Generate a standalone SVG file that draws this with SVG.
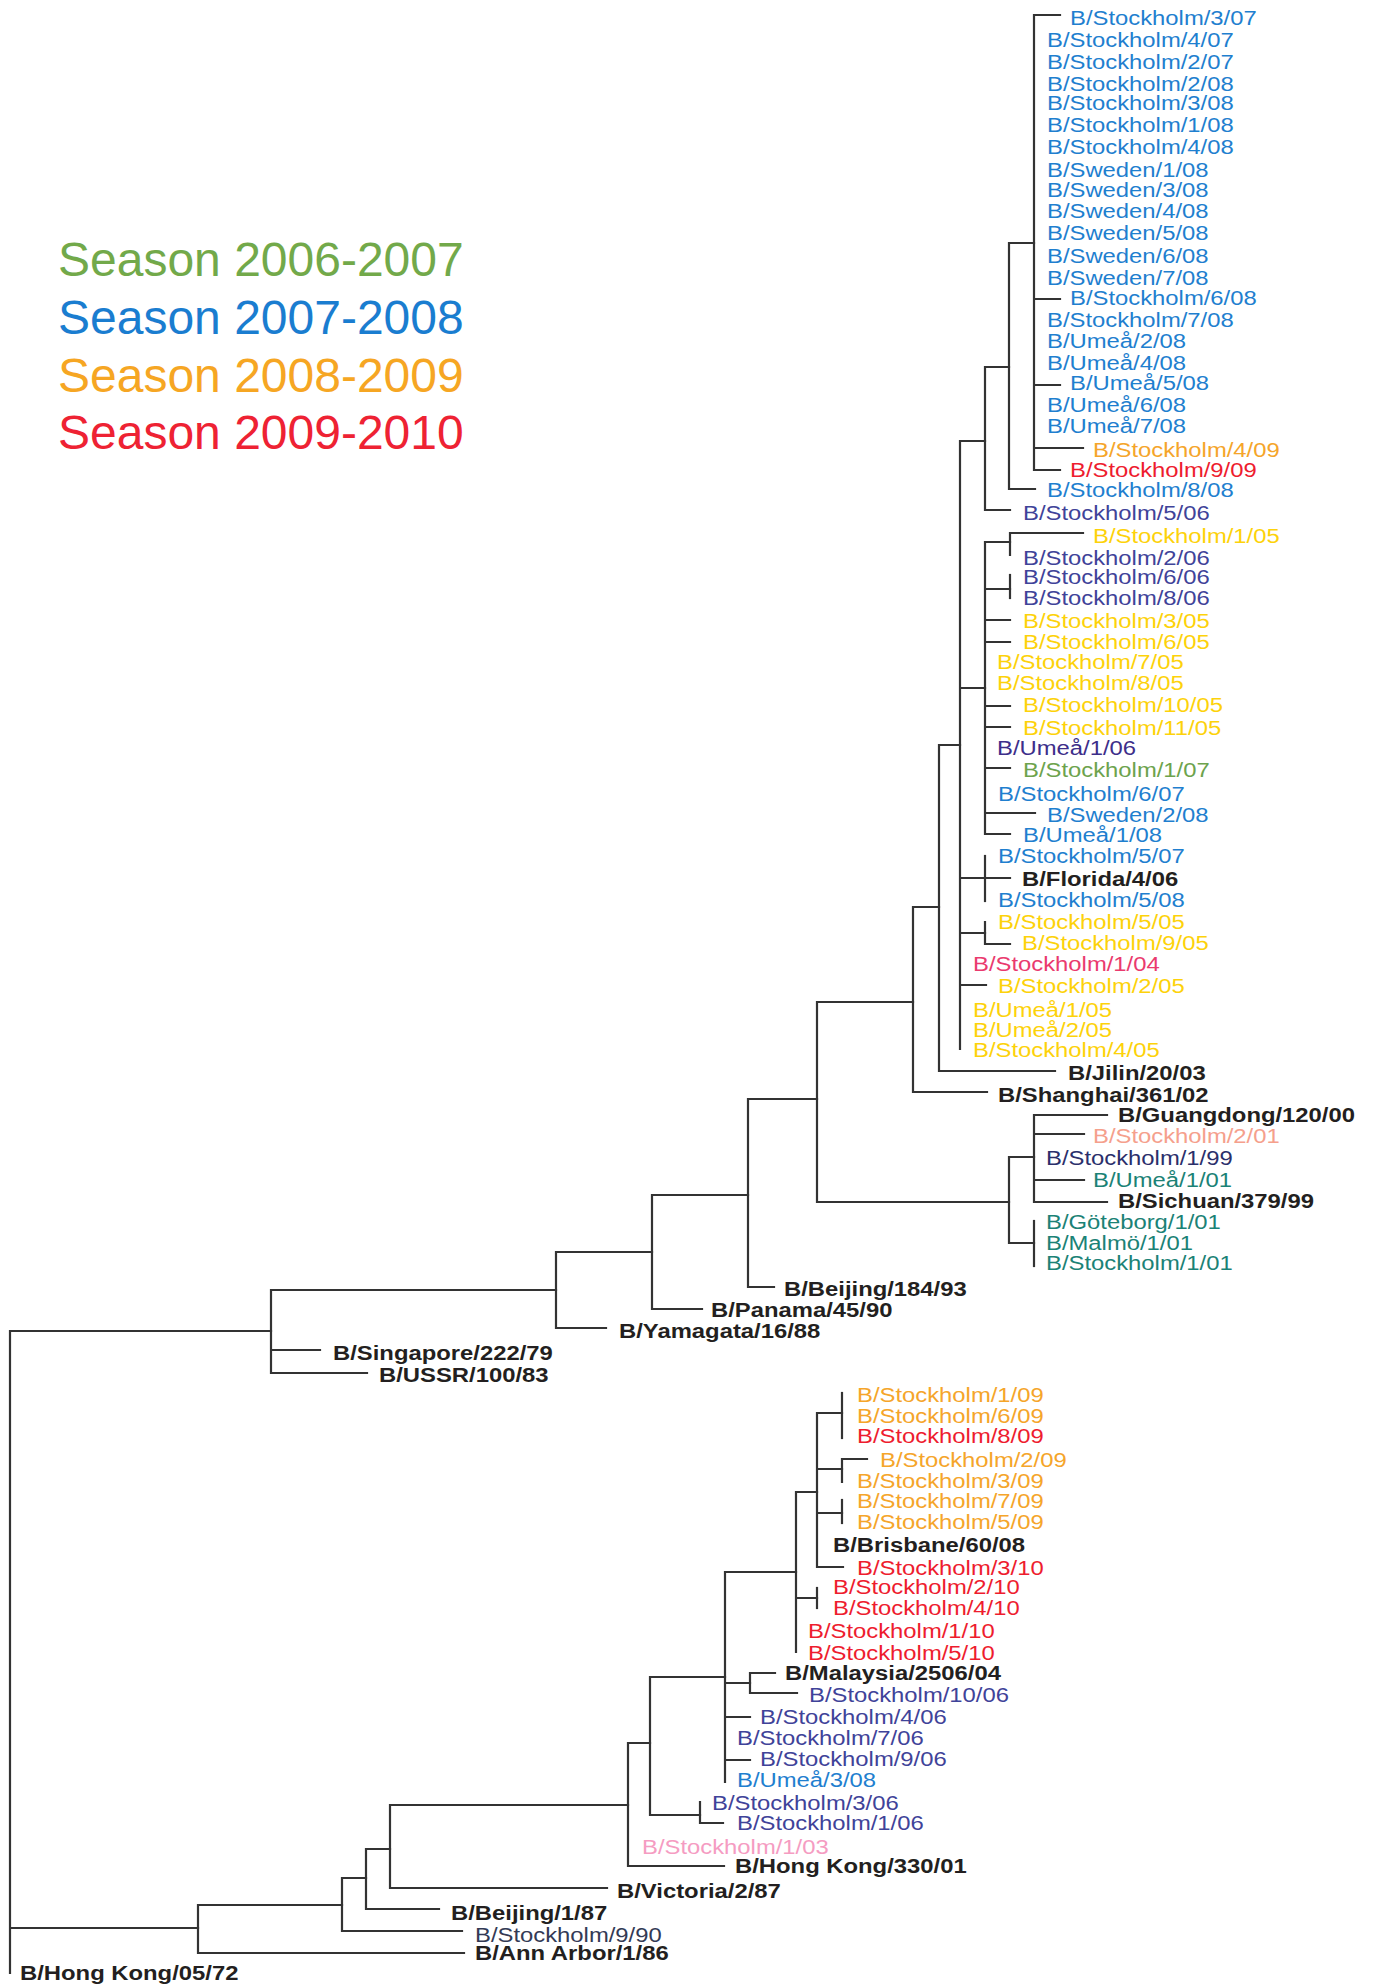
<svg xmlns="http://www.w3.org/2000/svg" width="1373" height="1988" viewBox="0 0 1373 1988">
<style>
.ln{fill:none;stroke:#333;stroke-width:2.2;stroke-linecap:square}
.t{font-family:"Liberation Sans",Arial,Helvetica,sans-serif;font-size:21px}
.lg{font-family:"Liberation Sans",Arial,Helvetica,sans-serif;font-size:48px}
.b{font-weight:bold;fill:#231f20}
.blu{fill:#1f7fcf}
.grn{fill:#6da34d}
.org{fill:#f5a52a}
.red{fill:#ee1c2e}
.yel{fill:#fdd20a}
.nav{fill:#3f4399}
.pur{fill:#3d2e8a}
.prd{fill:#ea3a6e}
.sal{fill:#f5a08c}
.tea{fill:#1b8276}
.pnk{fill:#f59cc2}
.dnv{fill:#2b2f6b}
.gry{fill:#333a55}
</style>
<rect width="1373" height="1988" fill="#fff"/>
<g id="legend">
<text class="lg" x="58" y="276" fill="#72a94a">Season 2006-2007</text>
<text class="lg" x="58" y="334" fill="#1a7dd0">Season 2007-2008</text>
<text class="lg" x="58" y="392" fill="#f6a623">Season 2008-2009</text>
<text class="lg" x="58" y="449" fill="#ee2233">Season 2009-2010</text>
</g>
<g id="connectors">
<path class="ln" d="M1034,15V470M1034,15H1060M1034,299H1060M1034,385H1060M1034,448H1083M1034,470H1060"/>
<path class="ln" d="M1009,243V489M1009,243H1034M1009,489H1035"/>
<path class="ln" d="M985,367V510M985,367H1009M985,510H1010"/>
<path class="ln" d="M960,441V1049M960,441H985M960,688H985M960,878H1010M960,933H985M960,985H986"/>
<path class="ln" d="M985,542V834M985,542H1010M985,589H1010M985,620H1010M985,642H1010M985,706H1010M985,727H1010M985,768H1010M985,813H1035M985,834H1010"/>
<path class="ln" d="M1010,533V555M1010,533H1083"/>
<path class="ln" d="M1010,575V598"/>
<path class="ln" d="M985,856V901"/>
<path class="ln" d="M985,922V944M985,944H1010"/>
<path class="ln" d="M939,745V1071M939,745H960M939,1071H1055"/>
<path class="ln" d="M913,907V1092M913,907H939M913,1092H987"/>
<path class="ln" d="M817,1002V1202M817,1002H913M817,1202H1009"/>
<path class="ln" d="M1009,1157V1243M1009,1157H1034M1009,1243H1034"/>
<path class="ln" d="M1034,1115V1202M1034,1115H1107M1034,1134H1084M1034,1180H1084M1034,1202H1107"/>
<path class="ln" d="M1034,1221V1266"/>
<path class="ln" d="M748,1099V1287M748,1099H817M748,1287H774"/>
<path class="ln" d="M652,1195V1309M652,1195H748M652,1309H702"/>
<path class="ln" d="M556,1252V1328M556,1252H652M556,1328H606"/>
<path class="ln" d="M271,1290V1373M271,1290H556M271,1350H320M271,1373H367"/>
<path class="ln" d="M10,1331V1973M10,1331H271M10,1928H198"/>
<path class="ln" d="M198,1905V1953M198,1905H342M198,1953H464"/>
<path class="ln" d="M342,1878V1931M342,1878H366M342,1931H462"/>
<path class="ln" d="M366,1849V1909M366,1849H390M366,1909H439"/>
<path class="ln" d="M390,1805V1888M390,1805H628M390,1888H607"/>
<path class="ln" d="M628,1743V1866M628,1743H650M628,1866H724"/>
<path class="ln" d="M650,1677V1815M650,1677H725M650,1815H700"/>
<path class="ln" d="M700,1802V1823M700,1823H723"/>
<path class="ln" d="M725,1572V1782M725,1572H796M725,1683H750M725,1717H750M725,1760H750"/>
<path class="ln" d="M750,1673V1693M750,1673H775M750,1693H797"/>
<path class="ln" d="M796,1492V1652M796,1492H817M796,1598H817"/>
<path class="ln" d="M817,1588V1608"/>
<path class="ln" d="M817,1413V1567M817,1413H842M817,1469H842M817,1513H842M817,1567H843"/>
<path class="ln" d="M842,1393V1438"/>
<path class="ln" d="M842,1459V1482M842,1459H867"/>
<path class="ln" d="M842,1500V1523"/>
</g>
<g id="tips-upper">
<g id="n01"><text class="t blu" transform="translate(1070 25) scale(1.135 1)">B/Stockholm/3/07</text></g>
<g id="n02"><text class="t blu" transform="translate(1047 47) scale(1.135 1)">B/Stockholm/4/07</text></g>
<g id="n03"><text class="t blu" transform="translate(1047 69) scale(1.135 1)">B/Stockholm/2/07</text></g>
<g id="n04"><text class="t blu" transform="translate(1047 91) scale(1.135 1)">B/Stockholm/2/08</text></g>
<g id="n05"><text class="t blu" transform="translate(1047 110) scale(1.135 1)">B/Stockholm/3/08</text></g>
<g id="n06"><text class="t blu" transform="translate(1047 132) scale(1.135 1)">B/Stockholm/1/08</text></g>
<g id="n07"><text class="t blu" transform="translate(1047 154) scale(1.135 1)">B/Stockholm/4/08</text></g>
<g id="n08"><text class="t blu" transform="translate(1047 177) scale(1.135 1)">B/Sweden/1/08</text></g>
<g id="n09"><text class="t blu" transform="translate(1047 197) scale(1.135 1)">B/Sweden/3/08</text></g>
<g id="n10"><text class="t blu" transform="translate(1047 218) scale(1.135 1)">B/Sweden/4/08</text></g>
<g id="n11"><text class="t blu" transform="translate(1047 240) scale(1.135 1)">B/Sweden/5/08</text></g>
<g id="n12"><text class="t blu" transform="translate(1047 263) scale(1.135 1)">B/Sweden/6/08</text></g>
<g id="n13"><text class="t blu" transform="translate(1047 285) scale(1.135 1)">B/Sweden/7/08</text></g>
<g id="n14"><text class="t blu" transform="translate(1070 305) scale(1.135 1)">B/Stockholm/6/08</text></g>
<g id="n15"><text class="t blu" transform="translate(1047 327) scale(1.135 1)">B/Stockholm/7/08</text></g>
<g id="n16"><text class="t blu" transform="translate(1047 348) scale(1.135 1)">B/Umeå/2/08</text></g>
<g id="n17"><text class="t blu" transform="translate(1047 370) scale(1.135 1)">B/Umeå/4/08</text></g>
<g id="n18"><text class="t blu" transform="translate(1070 390) scale(1.135 1)">B/Umeå/5/08</text></g>
<g id="n19"><text class="t blu" transform="translate(1047 412) scale(1.135 1)">B/Umeå/6/08</text></g>
<g id="n20"><text class="t blu" transform="translate(1047 433) scale(1.135 1)">B/Umeå/7/08</text></g>
<g id="n21"><text class="t org" transform="translate(1093 457) scale(1.135 1)">B/Stockholm/4/09</text></g>
<g id="n22"><text class="t red" transform="translate(1070 477) scale(1.135 1)">B/Stockholm/9/09</text></g>
<g id="n23"><text class="t blu" transform="translate(1047 497) scale(1.135 1)">B/Stockholm/8/08</text></g>
<g id="n24"><text class="t nav" transform="translate(1023 520) scale(1.135 1)">B/Stockholm/5/06</text></g>
<g id="n25"><text class="t yel" transform="translate(1093 543) scale(1.135 1)">B/Stockholm/1/05</text></g>
<g id="n26"><text class="t nav" transform="translate(1023 565) scale(1.135 1)">B/Stockholm/2/06</text></g>
<g id="n27"><text class="t nav" transform="translate(1023 584) scale(1.135 1)">B/Stockholm/6/06</text></g>
<g id="n28"><text class="t nav" transform="translate(1023 605) scale(1.135 1)">B/Stockholm/8/06</text></g>
<g id="n29"><text class="t yel" transform="translate(1023 628) scale(1.135 1)">B/Stockholm/3/05</text></g>
<g id="n30"><text class="t yel" transform="translate(1023 649) scale(1.135 1)">B/Stockholm/6/05</text></g>
<g id="n31"><text class="t yel" transform="translate(997 669) scale(1.135 1)">B/Stockholm/7/05</text></g>
<g id="n32"><text class="t yel" transform="translate(997 690) scale(1.135 1)">B/Stockholm/8/05</text></g>
<g id="n33"><text class="t yel" transform="translate(1023 712) scale(1.135 1)">B/Stockholm/10/05</text></g>
<g id="n34"><text class="t yel" transform="translate(1023 735) scale(1.135 1)">B/Stockholm/11/05</text></g>
<g id="n35"><text class="t pur" transform="translate(997 755) scale(1.135 1)">B/Umeå/1/06</text></g>
<g id="n36"><text class="t grn" transform="translate(1023 777) scale(1.135 1)">B/Stockholm/1/07</text></g>
<g id="n37"><text class="t blu" transform="translate(998 801) scale(1.135 1)">B/Stockholm/6/07</text></g>
<g id="n38"><text class="t blu" transform="translate(1047 822) scale(1.135 1)">B/Sweden/2/08</text></g>
<g id="n39"><text class="t blu" transform="translate(1023 842) scale(1.135 1)">B/Umeå/1/08</text></g>
<g id="n40"><text class="t blu" transform="translate(998 863) scale(1.135 1)">B/Stockholm/5/07</text></g>
<g id="n41"><text class="t b" transform="translate(1022 886) scale(1.135 1)">B/Florida/4/06</text></g>
<g id="n42"><text class="t blu" transform="translate(998 907) scale(1.135 1)">B/Stockholm/5/08</text></g>
<g id="n43"><text class="t yel" transform="translate(998 929) scale(1.135 1)">B/Stockholm/5/05</text></g>
<g id="n44"><text class="t yel" transform="translate(1022 950) scale(1.135 1)">B/Stockholm/9/05</text></g>
<g id="n45"><text class="t prd" transform="translate(973 971) scale(1.135 1)">B/Stockholm/1/04</text></g>
<g id="n46"><text class="t yel" transform="translate(998 993) scale(1.135 1)">B/Stockholm/2/05</text></g>
<g id="n47"><text class="t yel" transform="translate(973 1017) scale(1.135 1)">B/Umeå/1/05</text></g>
<g id="n48"><text class="t yel" transform="translate(973 1037) scale(1.135 1)">B/Umeå/2/05</text></g>
<g id="n49"><text class="t yel" transform="translate(973 1057) scale(1.135 1)">B/Stockholm/4/05</text></g>
<g id="n50"><text class="t b" transform="translate(1068 1080) scale(1.135 1)">B/Jilin/20/03</text></g>
<g id="n51"><text class="t b" transform="translate(998 1102) scale(1.135 1)">B/Shanghai/361/02</text></g>
<g id="n52"><text class="t b" transform="translate(1118 1122) scale(1.135 1)">B/Guangdong/120/00</text></g>
<g id="n53"><text class="t sal" transform="translate(1093 1143) scale(1.135 1)">B/Stockholm/2/01</text></g>
<g id="n54"><text class="t dnv" transform="translate(1046 1165) scale(1.135 1)">B/Stockholm/1/99</text></g>
<g id="n55"><text class="t tea" transform="translate(1093 1187) scale(1.135 1)">B/Umeå/1/01</text></g>
<g id="n56"><text class="t b" transform="translate(1118 1208) scale(1.135 1)">B/Sichuan/379/99</text></g>
<g id="n57"><text class="t tea" transform="translate(1046 1229) scale(1.135 1)">B/Göteborg/1/01</text></g>
<g id="n58"><text class="t tea" transform="translate(1046 1250) scale(1.135 1)">B/Malmö/1/01</text></g>
<g id="n59"><text class="t tea" transform="translate(1046 1270) scale(1.135 1)">B/Stockholm/1/01</text></g>
<g id="n60"><text class="t b" transform="translate(784 1296) scale(1.135 1)">B/Beijing/184/93</text></g>
<g id="n61"><text class="t b" transform="translate(711 1317) scale(1.135 1)">B/Panama/45/90</text></g>
<g id="n62"><text class="t b" transform="translate(619 1338) scale(1.135 1)">B/Yamagata/16/88</text></g>
<g id="n63"><text class="t b" transform="translate(333 1360) scale(1.135 1)">B/Singapore/222/79</text></g>
<g id="n64"><text class="t b" transform="translate(379 1382) scale(1.135 1)">B/USSR/100/83</text></g>
</g>
<g id="tips-lower">
<g id="n65"><text class="t org" transform="translate(857 1402) scale(1.135 1)">B/Stockholm/1/09</text></g>
<g id="n66"><text class="t org" transform="translate(857 1423) scale(1.135 1)">B/Stockholm/6/09</text></g>
<g id="n67"><text class="t red" transform="translate(857 1443) scale(1.135 1)">B/Stockholm/8/09</text></g>
<g id="n68"><text class="t org" transform="translate(880 1467) scale(1.135 1)">B/Stockholm/2/09</text></g>
<g id="n69"><text class="t org" transform="translate(857 1488) scale(1.135 1)">B/Stockholm/3/09</text></g>
<g id="n70"><text class="t org" transform="translate(857 1508) scale(1.135 1)">B/Stockholm/7/09</text></g>
<g id="n71"><text class="t org" transform="translate(857 1529) scale(1.135 1)">B/Stockholm/5/09</text></g>
<g id="n72"><text class="t b" transform="translate(833 1552) scale(1.135 1)">B/Brisbane/60/08</text></g>
<g id="n73"><text class="t red" transform="translate(857 1575) scale(1.135 1)">B/Stockholm/3/10</text></g>
<g id="n74"><text class="t red" transform="translate(833 1594) scale(1.135 1)">B/Stockholm/2/10</text></g>
<g id="n75"><text class="t red" transform="translate(833 1615) scale(1.135 1)">B/Stockholm/4/10</text></g>
<g id="n76"><text class="t red" transform="translate(808 1638) scale(1.135 1)">B/Stockholm/1/10</text></g>
<g id="n77"><text class="t red" transform="translate(808 1660) scale(1.135 1)">B/Stockholm/5/10</text></g>
<g id="n78"><text class="t b" transform="translate(785 1680) scale(1.135 1)">B/Malaysia/2506/04</text></g>
<g id="n79"><text class="t nav" transform="translate(809 1702) scale(1.135 1)">B/Stockholm/10/06</text></g>
<g id="n80"><text class="t nav" transform="translate(760 1724) scale(1.135 1)">B/Stockholm/4/06</text></g>
<g id="n81"><text class="t nav" transform="translate(737 1745) scale(1.135 1)">B/Stockholm/7/06</text></g>
<g id="n82"><text class="t nav" transform="translate(760 1766) scale(1.135 1)">B/Stockholm/9/06</text></g>
<g id="n83"><text class="t blu" transform="translate(737 1787) scale(1.135 1)">B/Umeå/3/08</text></g>
<g id="n84"><text class="t nav" transform="translate(712 1810) scale(1.135 1)">B/Stockholm/3/06</text></g>
<g id="n85"><text class="t nav" transform="translate(737 1830) scale(1.135 1)">B/Stockholm/1/06</text></g>
<g id="n86"><text class="t pnk" transform="translate(642 1854) scale(1.135 1)">B/Stockholm/1/03</text></g>
<g id="n87"><text class="t b" transform="translate(735 1873) scale(1.135 1)">B/Hong Kong/330/01</text></g>
<g id="n88"><text class="t b" transform="translate(617 1898) scale(1.135 1)">B/Victoria/2/87</text></g>
<g id="n89"><text class="t b" transform="translate(451 1920) scale(1.135 1)">B/Beijing/1/87</text></g>
<g id="n90"><text class="t gry" transform="translate(475 1942) scale(1.135 1)">B/Stockholm/9/90</text></g>
<g id="n91"><text class="t b" transform="translate(475 1960) scale(1.135 1)">B/Ann Arbor/1/86</text></g>
<g id="n92"><text class="t b" transform="translate(20 1980) scale(1.135 1)">B/Hong Kong/05/72</text></g>
</g>
</svg>
